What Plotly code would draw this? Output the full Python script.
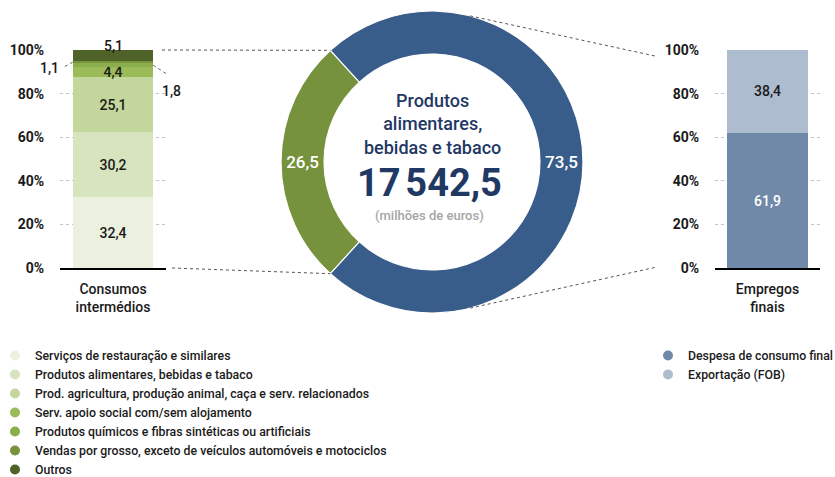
import math
import plotly.graph_objects as go

W, H = 835, 477
FONT = "Roboto"

# Intermediate consumption breakdown (%)
inter_cats = [
    "Serviços de restauração e similares",
    "Produtos alimentares, bebidas e tabaco",
    "Prod. agricultura, produção animal, caça e serv. relacionados",
    "Serv. apoio social com/sem alojamento",
    "Produtos químicos e fibras sintéticas ou artificiais",
    "Vendas por grosso, exceto de veículos automóveis e motociclos",
    "Outros",
]
inter_vals = [32.4, 30.2, 25.1, 4.4, 1.8, 1.1, 5.1]
inter_colors = ["#EBF1DE", "#D7E4BD", "#C3D69B", "#9BBB59", "#8AAE4B", "#77933C", "#4F6228"]

# Final uses breakdown (%)
final_cats = ["Despesa de consumo final", "Exportação (FOB)"]
final_vals = [61.9, 38.4]
final_colors = ["#7189A9", "#AEBCD0"]
final_text_colors = ["#FFFFFF", "#1A1A1A"]

# Split of total resources (%)
split_labels = ["Consumos intermédios", "Empregos finais"]
split_vals = [26.5, 73.5]
split_colors = ["#76923C", "#385D8A"]

total_value = 17542.5
center_title = "Produtos<br>alimentares,<br>bebidas e tabaco"
center_unit = "(milhões de euros)"

pct_ticks = [0, 20, 40, 60, 80, 100]
left_cat = "Consumos<br>intermédios"
right_cat = "Empregos<br>finais"


def fmt(v):
    return f"{v:.1f}".replace(".", ",")


def fmt_total(v):
    return f"{v:,.1f}".replace(",", "\u202f").replace(".", ",")


def px(x, y):
    """pixel position -> paper coordinates"""
    return x / W, 1 - y / H


# geometry of the panels (pixels)
LEFT_X = (60, 166)
RIGHT_X = (715, 820)
PLOT_Y = (50, 268)
BAR_W = 0.76
CX, CY, R = 432, 162, 151

fig = go.Figure()

# stacked bar: intermediate consumption
for cat, val, col in zip(inter_cats, inter_vals, inter_colors):
    show_inside = val >= 4 and cat != "Outros"
    fig.add_trace(go.Bar(
        x=[left_cat], y=[val], name=cat, width=BAR_W,
        marker=dict(color=col, line=dict(width=0)),
        text=[fmt(val)] if show_inside else [""],
        textposition="inside", insidetextanchor="middle", constraintext="none",
        textfont=dict(family=FONT, size=14, color="#1A1A1A", weight=500),
        xaxis="x", yaxis="y", showlegend=False, hoverinfo="skip",
    ))

# stacked bar: final uses
for cat, val, col, tc in zip(final_cats, final_vals, final_colors, final_text_colors):
    fig.add_trace(go.Bar(
        x=[right_cat], y=[val], name=cat, width=0.77,
        marker=dict(color=col, line=dict(width=0)),
        text=[fmt(val)], textposition="inside", insidetextanchor="middle",
        constraintext="none",
        textfont=dict(family=FONT, size=14, color=tc, weight=500),
        xaxis="x2", yaxis="y2", showlegend=False, hoverinfo="skip",
    ))

# legend entries (circle markers)
for cat, col in zip(inter_cats, inter_colors):
    fig.add_trace(go.Scatter(
        x=[None], y=[None], mode="markers", name=cat,
        marker=dict(color=col, size=10, symbol="circle"),
        xaxis="x", yaxis="y", legend="legend", hoverinfo="skip",
    ))
for cat, col in zip(final_cats, final_colors):
    fig.add_trace(go.Scatter(
        x=[None], y=[None], mode="markers", name=cat,
        marker=dict(color=col, size=10, symbol="circle"),
        xaxis="x2", yaxis="y2", legend="legend2", hoverinfo="skip",
    ))

# donut
rotation = 270 - split_vals[0] / sum(split_vals) * 180
fig.add_trace(go.Pie(
    labels=split_labels, values=split_vals, sort=False,
    direction="clockwise", rotation=rotation, hole=0.715,
    marker=dict(colors=split_colors, line=dict(color="white", width=1.2)),
    text=[fmt(v) for v in split_vals], textinfo="text",
    textposition="inside", insidetextorientation="horizontal",
    textfont=dict(family=FONT, size=17, color="white", weight=500),
    domain=dict(x=[(CX - R) / W, (CX + R) / W], y=[1 - (CY + R) / H, 1 - (CY - R) / H]),
    showlegend=False, hoverinfo="skip",
))

annotations = []
shapes = []

# center text of the donut
cxp, cyp = px(CX, 124)
annotations.append(dict(
    x=cxp, y=cyp, xref="paper", yref="paper", showarrow=False,
    text=center_title, align="center", xanchor="center", yanchor="middle",
    font=dict(family=FONT, size=18, color="#1F3864", weight=500),
))
tx, ty = px(CX - 2, 183)
annotations.append(dict(
    x=tx, y=ty, xref="paper", yref="paper", showarrow=False,
    text=fmt_total(total_value), xanchor="center", yanchor="middle",
    font=dict(family=FONT, size=38, color="#1F3864", weight=700),
))
ux, uy = px(CX - 2, 215)
annotations.append(dict(
    x=ux, y=uy, xref="paper", yref="paper", showarrow=False,
    text=center_unit, xanchor="center", yanchor="middle",
    font=dict(family=FONT, size=13, color="#A6A6A6", weight=500),
))

# value labels of the thin top segments
cum = []
acc = 0
for v in inter_vals:
    cum.append(acc + v / 2)
    acc += v
i_chem, i_sale, i_other = 4, 5, 6
half = BAR_W / 2
label_font = dict(family=FONT, size=14, color="#1A1A1A", weight=500)

annotations.append(dict(
    x=0, y=100, xref="x", yref="y", showarrow=False, text=fmt(inter_vals[i_other]),
    yanchor="middle", yshift=4, font=label_font,
))
annotations.append(dict(
    x=-half, y=cum[i_sale], xref="x", yref="y", showarrow=False,
    text=fmt(inter_vals[i_sale]), xanchor="right", xshift=-12, yshift=-6,
    font=label_font,
))
annotations.append(dict(
    x=half, y=cum[i_chem], xref="x", yref="y", showarrow=False,
    text=fmt(inter_vals[i_chem]), xanchor="left", xshift=7, yshift=-26,
    font=label_font,
))
leader = dict(color="#606060", width=1, dash="dot")
shapes.append(dict(
    type="line", xref="x", yref="y", xsizemode="pixel", ysizemode="pixel",
    xanchor=-half, yanchor=cum[i_sale], x0=0, x1=-9, y0=0, y1=-5, line=leader,
))
shapes.append(dict(
    type="line", xref="x", yref="y", xsizemode="pixel", ysizemode="pixel",
    xanchor=half, yanchor=cum[i_chem], x0=0, x1=17, y0=0, y1=-11, line=leader,
))

# connectors between the bars and the donut
frac_green = split_vals[0] / sum(split_vals)
a_top = math.radians(270 + frac_green * 180)
a_bot = math.radians(270 - frac_green * 180)


def on_circle(a, r=R):
    return CX + r * math.sin(a), CY - r * math.cos(a)


conn = dict(color="#555555", width=1, dash="dot")
g_top = on_circle(a_top)
g_bot = on_circle(a_bot)
b_top = on_circle(math.radians(14.6))
b_bot = on_circle(math.radians(165.4))
for (x0, y0), (x1, y1) in [
    ((LEFT_X[1] - 4, PLOT_Y[0]), g_top),
    ((LEFT_X[1] + 6, PLOT_Y[1]), g_bot),
    (b_top, (RIGHT_X[0] - 60, PLOT_Y[0] + 6)),
    (b_bot, (RIGHT_X[0] - 58, PLOT_Y[1] - 1)),
]:
    p0 = px(x0, y0)
    p1 = px(x1, y1)
    shapes.append(dict(type="line", xref="paper", yref="paper",
                       x0=p0[0], y0=p0[1], x1=p1[0], y1=p1[1], line=conn))

ydom = [1 - PLOT_Y[1] / H, 1 - PLOT_Y[0] / H]
tick_font = dict(family=FONT, size=14, color="#1A1A1A", weight=700)
cat_font = dict(family=FONT, size=14, color="#1A1A1A", weight=500)


def yaxis_cfg(anchor):
    return dict(
        domain=ydom, range=[0, 100], anchor=anchor,
        tickvals=pct_ticks, ticktext=[f"{t}%" for t in pct_ticks],
        showgrid=True, gridcolor="#C4C4C4", griddash="dot", gridwidth=1,
        zeroline=False, showline=False, ticks="outside", ticklen=12,
        tickcolor="rgba(0,0,0,0)", tickfont=tick_font, fixedrange=True,
        automargin=False,
    )


def xaxis_cfg(dom, anchor):
    return dict(
        domain=[dom[0] / W, dom[1] / W], range=[-0.5, 0.5], anchor=anchor,
        type="category", showline=True, linecolor="#000000", linewidth=1.5,
        showgrid=False, ticks="outside", ticklen=7, tickcolor="rgba(0,0,0,0)",
        tickfont=cat_font, fixedrange=True, automargin=False,
    )


legend_font = dict(family=FONT, size=12.3, color="#1A1A1A", weight=500)
fig.update_layout(
    width=W, height=H,
    margin=dict(l=0, r=0, t=0, b=0, autoexpand=False),
    paper_bgcolor="white", plot_bgcolor="white",
    barmode="stack", bargap=0,
    xaxis=xaxis_cfg(LEFT_X, "y"),
    yaxis=yaxis_cfg("x"),
    xaxis2=xaxis_cfg(RIGHT_X, "y2"),
    yaxis2=yaxis_cfg("x2"),
    legend=dict(x=-5 / W, y=1 - 341 / H, xanchor="left", yanchor="top",
                font=legend_font, bgcolor="rgba(0,0,0,0)", tracegroupgap=0,
                traceorder="normal"),
    legend2=dict(x=648 / W, y=1 - 341 / H, xanchor="left", yanchor="top",
                 font=legend_font, bgcolor="rgba(0,0,0,0)", tracegroupgap=0,
                 traceorder="normal"),
    annotations=annotations,
    shapes=shapes,
    font=dict(family=FONT),
)

fig.write_html("out.html")
